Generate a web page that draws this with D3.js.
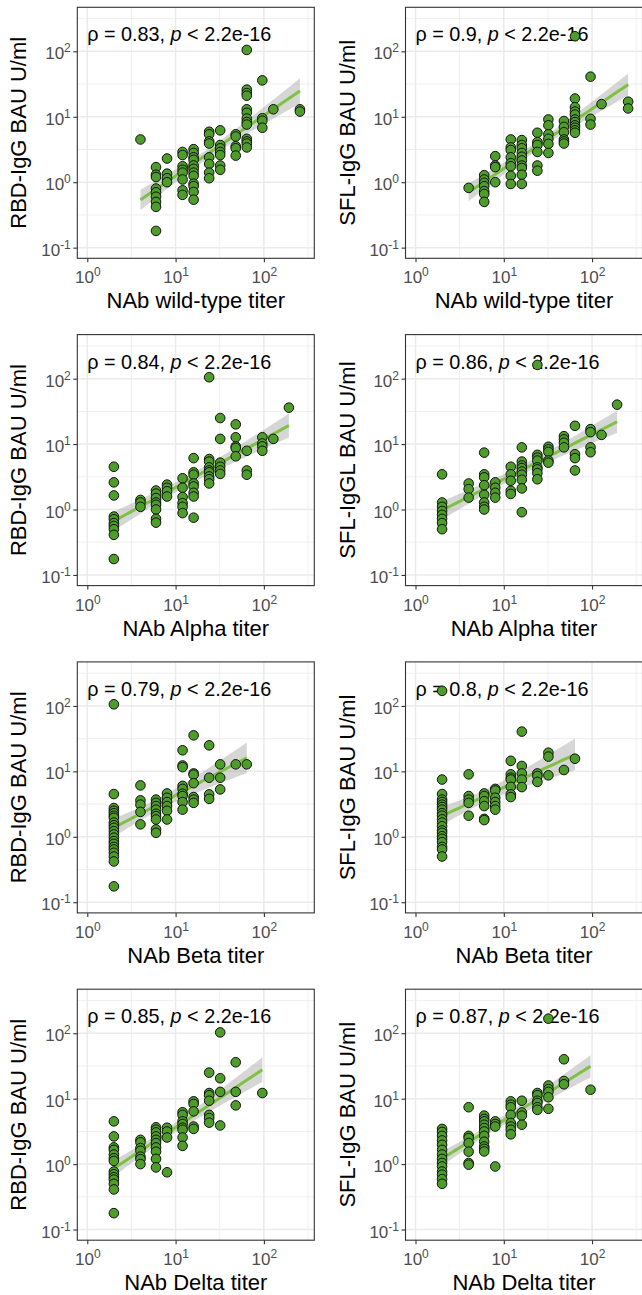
<!DOCTYPE html>
<html><head><meta charset="utf-8">
<script src="https://cdn.jsdelivr.net/npm/d3@7"></script>
<style>body{margin:0;background:#fff} svg{display:block}</style>
</head><body>
<svg id="chart" width="642" height="1295"></svg>
<script>
// ---------- data ----------
const xTickValues = [1, 10, 100];
const xTickExponents = ["0", "1", "2"];
const yTickValues = [0.1, 1, 10, 100];
const yTickExponents = ["-1", "0", "1", "2"];

const rhoLabels = ["0.83", "0.9", "0.84", "0.86", "0.79", "0.8", "0.85", "0.87"];
const yTitles = ["RBD-IgG BAU U/ml", "SFL-IgG BAU U/ml", "RBD-IgG BAU U/ml", "SFL-IgGL BAU U/ml",
                 "RBD-IgG BAU U/ml", "SFL-IgG BAU U/ml", "RBD-IgG BAU U/ml", "SFL-IgG BAU U/ml"];
const xTitles = ["NAb wild-type titer", "NAb wild-type titer", "NAb Alpha titer", "NAb Alpha titer",
                 "NAb Beta titer", "NAb Beta titer", "NAb Delta titer", "NAb Delta titer"];

// [titer, [antibody values]]
const wildTypeRBD = [
  [4, [4.5]],
  [6, [1.7, 1.3, 1.2, 0.8, 0.7, 0.6, 0.5, 0.42, 0.18]],
  [8, [2.3, 1.35, 1.15, 1.0]],
  [12, [2.9, 2.6, 1.75, 1.55, 1.4, 1.1, 0.75, 0.64]],
  [16, [3.2, 2.8, 2.4, 2.2, 1.8, 1.6, 1.4, 1.25, 0.95, 0.87, 0.71, 0.54]],
  [24, [5.9, 5.4, 4.2, 3.9, 2.4, 1.9, 1.4, 1.15]],
  [32, [6.2, 3.7, 3.3, 2.9, 2.6, 1.8, 1.55]],
  [48, [5.4, 5.0, 3.55, 3.3, 2.55]],
  [64, [105, 26, 23, 21, 13, 11.5, 9.4, 8.3, 7.6, 4.6, 4.2, 3.9, 3.4]],
  [96, [36, 9.5, 8.7, 6.8]],
  [128, [13]],
  [256, [13, 12]]
];
const wildTypeSFL = [
  [4, [0.82]],
  [6, [1.28, 1.1, 0.98, 0.87, 0.73, 0.66, 0.5]],
  [8, [2.5, 1.8, 1.7, 1.0]],
  [12, [4.5, 3.4, 3.1, 2.4, 1.95, 1.75, 1.25, 0.94]],
  [16, [4.4, 3.7, 3.3, 2.8, 2.45, 2.15, 1.8, 1.65, 1.3, 0.94]],
  [24, [5.7, 4.1, 3.7, 2.9, 1.8, 1.5]],
  [32, [9.1, 7.4, 5.4, 4.6, 3.85, 2.8]],
  [48, [8.6, 7.0, 5.8, 4.5, 4.2, 3.9]],
  [64, [170, 19, 14, 12, 10.8, 9.1, 8.3, 7.4, 6.8, 6.2, 5.7]],
  [96, [41, 9.3, 7.6]],
  [128, [15.6]],
  [256, [17, 13.4]]
];
const alphaRBD = [
  [2, [4.5, 2.6, 1.64, 0.78, 0.71, 0.62, 0.56, 0.5, 0.41, 0.175]],
  [4, [1.4, 1.28, 1.1]],
  [6, [1.95, 1.75, 1.5, 1.28, 1.18, 1.0, 0.72, 0.63]],
  [8, [2.4, 2.15, 1.9, 1.58]],
  [12, [3.0, 2.15, 1.55, 1.25, 1.1, 0.88]],
  [16, [6.1, 3.7, 3.4, 2.5, 2.25, 1.8, 1.58, 0.75]],
  [24, [105, 5.9, 5.4, 4.4, 3.95, 3.7, 3.2, 2.9, 2.5]],
  [32, [25, 12, 5.2, 4.5, 3.95, 3.5]],
  [48, [20, 12.7, 9.2, 8.7, 6.5]],
  [64, [7.9, 3.95, 3.4]],
  [96, [12.7, 10.2, 9.2, 7.9]],
  [128, [12]],
  [192, [36]]
];
const alphaSFL = [
  [2, [3.45, 1.28, 1.1, 0.95, 0.83, 0.72, 0.62, 0.5]],
  [4, [2.5, 2.05, 1.52]],
  [6, [7.4, 3.45, 3.1, 2.35, 1.68, 1.28, 1.1, 1.0]],
  [8, [2.6, 2.15, 1.8, 1.52]],
  [12, [4.5, 3.45, 2.75, 1.93, 1.73]],
  [16, [8.9, 5.4, 4.7, 4.3, 3.8, 3.4, 2.85, 2.1, 0.91]],
  [24, [162, 6.85, 6.2, 5.6, 4.4, 4.1, 3.6, 2.9]],
  [32, [9.1, 8.3, 7.6, 5.6, 5.2]],
  [48, [13.2, 11.8, 10.5, 8.9]],
  [64, [19, 7.0, 6.1, 3.95]],
  [96, [16.9, 15.2, 8.9, 7.5]],
  [128, [13.8]],
  [192, [40]]
];
const betaRBD = [
  [2, [106, 4.5, 2.75, 2.5, 2.3, 2.1, 1.95, 1.65, 1.5, 1.37, 1.22, 1.09, 0.97, 0.86, 0.78, 0.7, 0.64, 0.57, 0.5, 0.42, 0.175]],
  [4, [6.1, 3.6, 3.1, 2.4, 1.55]],
  [6, [3.7, 3.3, 2.95, 2.6, 2.25, 2.07, 1.84, 1.3, 1.15]],
  [8, [4.6, 3.95, 3.4, 2.95, 2.5, 1.84]],
  [12, [21, 12.3, 11.6, 6.0, 5.4, 4.55, 4.2, 3.4, 2.6]],
  [16, [35.5, 9.3, 8.9, 6.6, 4.05, 3.7, 3.3]],
  [24, [25, 8.0, 4.45, 3.8]],
  [32, [12.8, 8.0, 5.3]],
  [48, [12.8]],
  [64, [12.8]]
];
const betaSFL = [
  [2, [170, 7.5, 4.5, 3.7, 3.4, 3.1, 2.85, 2.6, 2.3, 2.1, 1.85, 1.65, 1.45, 1.25, 1.15, 1.02, 0.93, 0.83, 0.7, 0.64, 0.5]],
  [4, [9.0, 4.2, 3.7, 3.3, 2.1]],
  [6, [4.6, 4.2, 3.5, 2.95, 1.88, 1.8]],
  [8, [5.4, 5.1, 3.95, 3.4, 2.95, 2.6]],
  [12, [14.5, 9.0, 8.0, 7.5, 5.8, 4.45, 4.05]],
  [16, [40.5, 12.1, 9.3, 7.5, 5.75]],
  [24, [9.3, 8.5, 6.9]],
  [32, [19.3, 16.8, 8.7]],
  [48, [10.5]],
  [64, [15.6]]
];
const deltaRBD = [
  [2, [4.5, 2.65, 1.8, 1.65, 1.4, 1.23, 1.12, 0.77, 0.7, 0.63, 0.58, 0.5, 0.41, 0.178]],
  [4, [2.35, 2.15, 1.76, 1.6, 1.3, 1.19, 1.0]],
  [6, [3.65, 3.35, 3.05, 2.65, 2.35, 2.1, 1.8, 1.55, 1.2, 0.89]],
  [8, [3.6, 3.15, 2.55, 0.75]],
  [12, [6.2, 5.65, 4.5, 4.1, 3.6, 3.35, 2.55, 1.9]],
  [16, [9.1, 8.3, 6.4, 3.75, 3.45]],
  [24, [25, 12.2, 11.3, 9.3, 5.65, 5.05, 4.3]],
  [32, [103, 20.5, 12.7, 3.9]],
  [48, [36, 12.7, 7.9]],
  [96, [12.2]]
];
const deltaSFL = [
  [2, [3.45, 3.1, 2.7, 2.3, 1.97, 1.65, 1.4, 1.2, 1.04, 0.92, 0.77, 0.69, 0.59, 0.5]],
  [4, [7.4, 2.7, 2.5, 2.1, 1.55, 1.04, 0.98]],
  [6, [5.5, 4.9, 4.5, 4.0, 3.55, 3.15, 2.7, 2.2, 1.86, 1.71, 1.56]],
  [8, [4.5, 4.1, 3.75, 0.92]],
  [12, [9.1, 8.1, 7.4, 5.65, 4.25, 3.75, 3.35, 2.85]],
  [16, [9.3, 6.15, 5.5, 4.0]],
  [24, [12.2, 11.3, 9.3, 8.6, 7.4, 6.75]],
  [32, [167, 15.9, 14.0, 12.7, 10.5, 7.0]],
  [48, [40, 18.6, 16.6]],
  [96, [13.7]]
];

const panelData = [wildTypeRBD, wildTypeSFL, alphaRBD, alphaSFL, betaRBD, betaSFL, deltaRBD, deltaSFL];

// ---------- layout ----------
const FONT = "'Liberation Sans', Arial, Helvetica, sans-serif";
const plotW = 237, plotH = 251;
const colX = [77.3, 405.5];
const rowTop = 7.3, rowStep = 327.3;

const x = d3.scaleLog().domain([Math.pow(10, -0.1133), Math.pow(10, 2.571)]).range([0, plotW]);
const y = d3.scaleLog().domain([Math.pow(10, -1.163), Math.pow(10, 2.673)]).range([plotH, 0]);

// minor grid at geometric midpoints of major ticks (ggplot log-scale minor breaks)
function minorBreaks(ticks) {
  const out = [];
  const step = ticks[1] / ticks[0];
  const ext = [ticks[0] / step].concat(ticks, [ticks[ticks.length - 1] * step]);
  for (let i = 0; i < ext.length - 1; i++) out.push(Math.sqrt(ext[i] * ext[i + 1]));
  return out;
}
const xMinor = minorBreaks(xTickValues).filter(v => v >= x.domain()[0] && v <= x.domain()[1]);
const yMinor = minorBreaks(yTickValues).filter(v => v >= y.domain()[0] && v <= y.domain()[1]);

// linear fit in log-log space with 95% confidence band (like geom_smooth(method = "lm"))
function tQuantile(df) {
  const z = 1.959964;
  return z + (z ** 3 + z) / (4 * df) + (5 * z ** 5 + 16 * z ** 3 + 3 * z) / (96 * df * df);
}
function linearFit(points) {
  const X = points.map(p => Math.log10(p[0])), Y = points.map(p => Math.log10(p[1]));
  const n = X.length, mx = d3.mean(X), my = d3.mean(Y);
  let sxx = 0, sxy = 0;
  for (let i = 0; i < n; i++) { sxx += (X[i] - mx) ** 2; sxy += (X[i] - mx) * (Y[i] - my); }
  const b = sxy / sxx, a = my - b * mx;
  let sse = 0;
  for (let i = 0; i < n; i++) sse += (Y[i] - a - b * X[i]) ** 2;
  const s = Math.sqrt(sse / (n - 2)), t = tQuantile(n - 2);
  const [lo, hi] = d3.extent(X);
  const grid = d3.range(80).map(i => lo + (hi - lo) * i / 79);
  return grid.map(g => {
    const fit = a + b * g;
    const se = s * Math.sqrt(1 / n + (g - mx) ** 2 / sxx);
    return { x: Math.pow(10, g), y: Math.pow(10, fit), y0: Math.pow(10, fit - t * se), y1: Math.pow(10, fit + t * se) };
  });
}

const svg = d3.select("#chart");
svg.append("rect").attr("width", 642).attr("height", 1295).attr("fill", "#fff");

panelData.forEach((groups, idx) => {
  const col = idx % 2, row = Math.floor(idx / 2);
  const g = svg.append("g").attr("transform", `translate(${colX[col]},${rowTop + row * rowStep})`);
  const points = [];
  groups.forEach(([titer, vals]) => vals.forEach(v => points.push([titer, v])));

  // panel background + grid
  g.append("rect").attr("width", plotW).attr("height", plotH).attr("fill", "#fff");
  const grid = g.append("g");
  grid.selectAll(".xm").data(xMinor).join("line")
    .attr("x1", d => x(d)).attr("x2", d => x(d)).attr("y1", 0).attr("y2", plotH)
    .attr("stroke", "#EBEBEB").attr("stroke-width", 0.8);
  grid.selectAll(".ym").data(yMinor).join("line")
    .attr("y1", d => y(d)).attr("y2", d => y(d)).attr("x1", 0).attr("x2", plotW)
    .attr("stroke", "#EBEBEB").attr("stroke-width", 0.8);
  grid.selectAll(".xM").data(xTickValues).join("line")
    .attr("x1", d => x(d)).attr("x2", d => x(d)).attr("y1", 0).attr("y2", plotH)
    .attr("stroke", "#EBEBEB").attr("stroke-width", 1.5);
  grid.selectAll(".yM").data(yTickValues).join("line")
    .attr("y1", d => y(d)).attr("y2", d => y(d)).attr("x1", 0).attr("x2", plotW)
    .attr("stroke", "#EBEBEB").attr("stroke-width", 1.5);

  // smooth
  const fit = linearFit(points);
  g.append("path").datum(fit)
    .attr("d", d3.area().x(d => x(d.x)).y0(d => y(d.y0)).y1(d => y(d.y1)))
    .attr("fill", "#999999").attr("fill-opacity", 0.4);
  g.append("path").datum(fit)
    .attr("d", d3.line().x(d => x(d.x)).y(d => y(d.y)))
    .attr("fill", "none").attr("stroke", "#7DC242").attr("stroke-width", 3);

  // correlation label
  const lab = g.append("text").attr("x", x(1)).attr("y", 34)
    .attr("font-family", FONT).attr("font-size", 19.8).attr("fill", "#000");
  lab.append("tspan").text(`ρ = ${rhoLabels[idx]}, `);
  lab.append("tspan").attr("font-style", "italic").text("p");
  lab.append("tspan").text(" < 2.2e-16");

  // points
  g.append("g").selectAll("circle").data(points).join("circle")
    .attr("cx", d => x(d[0])).attr("cy", d => y(d[1])).attr("r", 4.8)
    .attr("fill", "#4E9C2A").attr("stroke", "#111").attr("stroke-width", 1);

  // border
  g.append("rect").attr("width", plotW).attr("height", plotH)
    .attr("fill", "none").attr("stroke", "#333333").attr("stroke-width", 1.1);

  // axes
  const xAxis = g.append("g").attr("transform", `translate(0,${plotH})`)
    .call(d3.axisBottom(x).tickValues(xTickValues).tickSize(4).tickPadding(3).tickFormat(() => ""));
  const yAxis = g.append("g")
    .call(d3.axisLeft(y).tickValues(yTickValues).tickSize(4).tickPadding(3).tickFormat(() => ""));
  [xAxis, yAxis].forEach(ax => {
    ax.select(".domain").remove();
    ax.selectAll(".tick line").attr("stroke", "#333333").attr("stroke-width", 1.1);
  });
  xAxis.selectAll(".tick text").each(function (d, i) {
    const t = d3.select(this).attr("y", 25).attr("dy", null)
      .attr("font-family", FONT).attr("font-size", 17).attr("fill", "#4D4D4D").attr("text-anchor", "middle");
    t.text(null);
    t.append("tspan").text("10");
    t.append("tspan").attr("font-size", 12).attr("dy", -7).text(xTickExponents[i]);
  });
  yAxis.selectAll(".tick text").each(function (d, i) {
    const t = d3.select(this).attr("x", -6.5).attr("dy", null).attr("y", 7.5)
      .attr("font-family", FONT).attr("font-size", 17).attr("fill", "#4D4D4D").attr("text-anchor", "end");
    t.text(null);
    t.append("tspan").text("10");
    t.append("tspan").attr("font-size", 12).attr("dy", -7).text(yTickExponents[i]);
  });

  // axis titles
  g.append("text").attr("x", plotW / 2).attr("y", plotH + 50)
    .attr("text-anchor", "middle").attr("font-family", FONT).attr("font-size", 22).attr("fill", "#000")
    .text(xTitles[idx]);
  g.append("text").attr("transform", `translate(-51,${plotH / 2}) rotate(-90)`)
    .attr("text-anchor", "middle").attr("font-family", FONT).attr("font-size", 22).attr("fill", "#000")
    .text(yTitles[idx]);
});
</script>
</body></html>
